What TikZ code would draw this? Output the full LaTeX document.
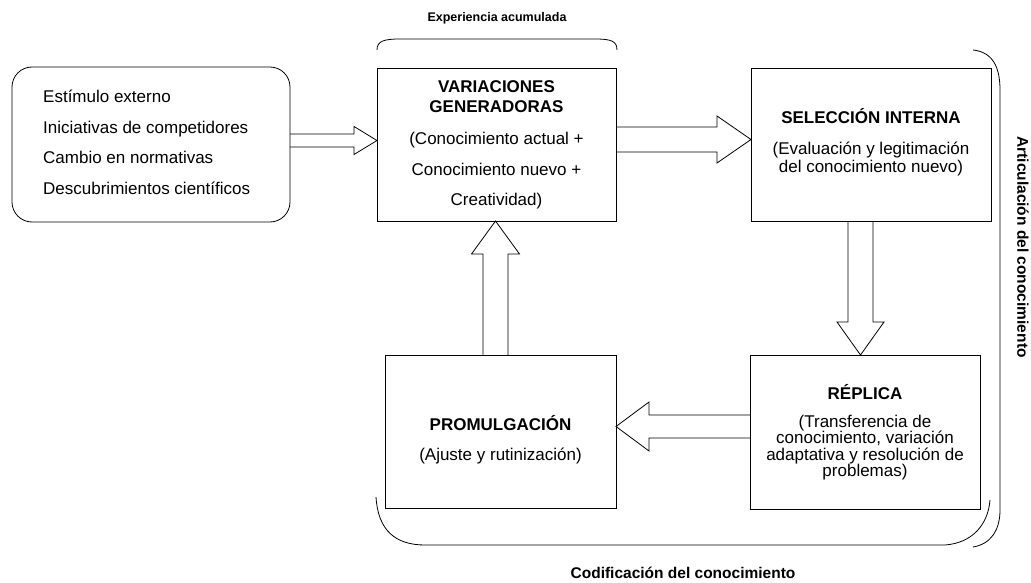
\documentclass[tikz,border=0pt]{standalone}
\usepackage{fontspec}
\setmainfont{Liberation Sans}
\usetikzlibrary{calc}

% block arrow: tail, tip, half shaft, half head, head length
\newcommand{\blockarrow}[5]{%
  \coordinate (ba) at ($(#2)!#5!(#1)$);
  \draw [arrowline] ($(#1)!#3!90:(#2)$) -- ($(ba)!#3!-90:(#1)$) -- ($(ba)!#4!-90:(#1)$) -- (#2)
    -- ($(ba)!#4!90:(#1)$) -- ($(ba)!#3!90:(#1)$) -- ($(#1)!#3!-90:(#2)$);
}

\begin{document}
\begin{tikzpicture}[x=1pt,y=-1pt,
    box/.style={draw,line width=0.8pt,outer sep=0pt,inner sep=0pt,minimum height=153pt},
    boxtext/.style={inner sep=0pt,align=center,anchor=north,font=\fontsize{17}{18}\selectfont},
    arrowline/.style={line width=0.8pt,line join=miter},
    bracket/.style={line width=0.8pt},
    caption/.style={inner sep=0pt,font=\bfseries\fontsize{15.5}{18}\selectfont},
]
    \useasboundingbox (0,0) rectangle (1031,583);

    \node [box,rounded corners=20pt,minimum width=278pt,minimum height=155pt] (ext) at (151,144.5) {};
    \node [box,minimum width=239pt] (var) at (496.5,144.5) {};
    \node [box,minimum width=240pt] (sel) at (871,144.5) {};
    \node [box,minimum width=230pt,minimum height=154pt] (rep) at (865,432) {};
    \node [box,minimum width=231pt] (prom) at (500.5,431.5) {};

    \node [boxtext,anchor=north west,align=left,font=\fontsize{17}{30.5}\selectfont] (exttxt) at (43,90)
        {Estímulo externo\\Iniciativas de competidores\\Cambio en normativas\\Descubrimientos científicos};
    \node [boxtext] (vartxt) at (496.5,80)
        {\textbf{VARIACIONES}\\[2pt]\textbf{GENERADORAS}\\[14pt](Conocimiento actual +\\[13pt]Conocimiento nuevo +\\[12pt]Creatividad)};
    \node [boxtext] (seltxt) at (871,108)
        {\textbf{SELECCIÓN INTERNA}\\[13pt](Evaluación y legitimación\\del conocimiento nuevo)};
    \node [boxtext,font=\fontsize{17}{16.4}\selectfont] (reptxt) at (865,384)
        {\textbf{RÉPLICA}\\[11.6pt](Transferencia de\\conocimiento, variación\\adaptativa y resolución de\\problemas)};
    \node [boxtext] (promtxt) at (500.5,415)
        {\textbf{PROMULGACIÓN}\\[12pt](Ajuste y rutinización)};

    \coordinate (a1) at ([yshift=4pt]ext.east);
    \coordinate (a1t) at (var.west |- a1);
    \coordinate (b1) at ([yshift=5pt]var.east);
    \coordinate (b1t) at (sel.west |- b1);
    \coordinate (c1) at ([xshift=-10.5pt]sel.south);
    \coordinate (c1t) at (c1 |- rep.north);
    \coordinate (d1) at ([yshift=5.5pt]rep.west);
    \coordinate (d1t) at (prom.east |- d1);
    \coordinate (e1) at ([xshift=-5pt]prom.north);
    \coordinate (e1t) at (e1 |- var.south);

    \blockarrow{a1}{a1t}{6.5pt}{14pt}{23pt}
    \blockarrow{b1}{b1t}{12.5pt}{23.5pt}{34pt}
    \blockarrow{c1}{c1t}{12.5pt}{23.5pt}{33pt}
    \blockarrow{d1}{d1t}{11.5pt}{24.5pt}{33pt}
    \blockarrow{e1}{e1t}{12.5pt}{24pt}{33pt}

    \draw [bracket] (377,50) .. controls (377,41) and (384,39) .. (400,39) -- (595,39)
        .. controls (611,39) and (617,41) .. (617,50);
    \draw [bracket] (973,50) .. controls (992,52) and (1000,66) .. (1000,90) -- (1000,510)
        .. controls (1000,530) and (991,544) .. (973,547);
    \draw [bracket] (376,497) .. controls (378,530) and (395,545) .. (425,545) -- (945,545)
        .. controls (972,543) and (988,525) .. (990,500);

    \node [caption,font=\bfseries\fontsize{12.5}{15}\selectfont] (exp) at (497,18) {Experiencia acumulada};
    \node [caption] (cod) at (683,573) {Codificación del conocimiento};
    \node [caption,rotate=-90] (art) at (1023,247) {Articulación del conocimiento};
\end{tikzpicture}
\end{document}
